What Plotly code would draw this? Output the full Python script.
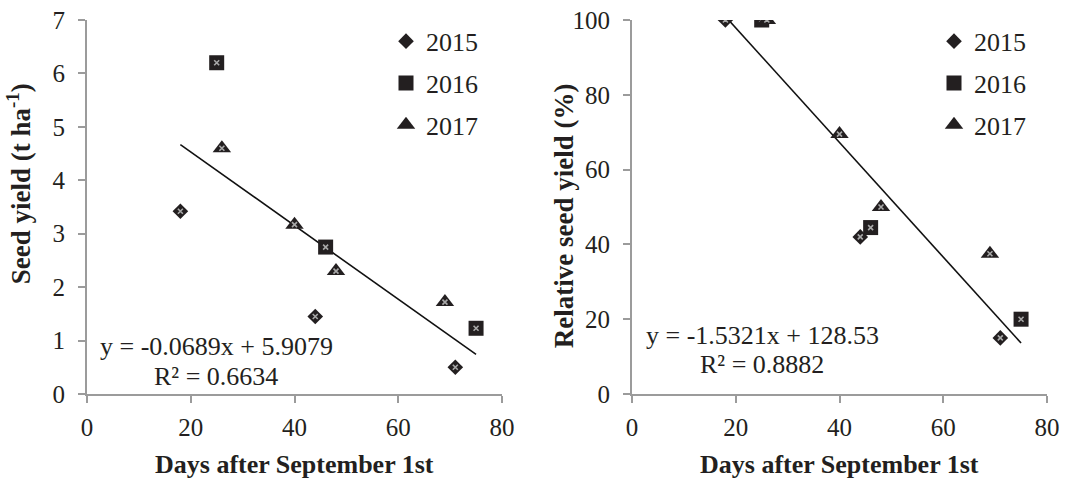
import plotly.graph_objects as go

years = ["2015", "2016", "2017"]
symbols = {"2015": "diamond", "2016": "square", "2017": "triangle-up"}
sizes = {"2015": 12, "2016": 15, "2017": 16}

# Left panel: seed yield (t ha-1)
days = {
    "2015": [18, 44, 71],
    "2016": [25, 46, 75],
    "2017": [26, 40, 48, 69],
}
yield_abs = {
    "2015": [3.42, 1.45, 0.50],
    "2016": [6.20, 2.75, 1.23],
    "2017": [4.60, 3.17, 2.30, 1.72],
}
# Right panel: relative seed yield (%)
yield_rel = {
    "2015": [100, 42, 15],
    "2016": [100, 44.5, 20],
    "2017": [100, 69.5, 50, 37.5],
}

fit_left = (-0.0689, 5.9079)
fit_right = (-1.5321, 128.53)
fit_x = [18, 75]
eq_left = ["y = -0.0689x + 5.9079", "R² = 0.6634"]
eq_right = ["y = -1.5321x + 128.53", "R² = 0.8882"]

FONT = "Liberation Serif, Times New Roman, serif"
INK = "#231f20"
GREY = "#9b9b9b"
W, H = 1069, 480
T, B = 19.5, 394.0  # plot area top / bottom in pixels
PH = B - T

fig = go.Figure()

def add_panel(xa, ya, ydata, fit, legend):
    fig.add_trace(go.Scatter(x=fit_x, y=[fit[0] * v + fit[1] for v in fit_x],
                             mode="lines", line=dict(color="#111111", width=1.6),
                             xaxis=xa, yaxis=ya, showlegend=False, hoverinfo="skip"))
    for yr in years:
        fig.add_trace(go.Scatter(x=days[yr], y=ydata[yr], mode="markers",
                                 marker=dict(symbol=symbols[yr], size=sizes[yr], color=INK,
                                             line=dict(width=0)),
                                 xaxis=xa, yaxis=ya, showlegend=False))
        fig.add_trace(go.Scatter(x=days[yr], y=ydata[yr], mode="markers",
                                 marker=dict(symbol="x-thin", size=5, color="#a8a8a8",
                                             line=dict(width=1.6, color="#a8a8a8")),
                                 xaxis=xa, yaxis=ya, showlegend=False, hoverinfo="skip"))
        fig.add_trace(go.Scatter(x=[None], y=[None], mode="markers", name=yr,
                                 marker=dict(symbol=symbols[yr], size=sizes[yr], color=INK),
                                 xaxis=xa, yaxis=ya, legend=legend, legendgroup=legend + yr))

add_panel("x", "y", yield_abs, fit_left, "legend")
add_panel("x2", "y2", yield_rel, fit_right, "legend2")

axis_common = dict(showline=True, linecolor=GREY, linewidth=2, ticks="outside",
                   tickcolor=GREY, ticklen=7, tickwidth=2, showgrid=False, zeroline=False,
                   automargin=False, tickfont=dict(family=FONT, size=25, color=INK))

fig.update_layout(
    width=W, height=H,
    paper_bgcolor="white", plot_bgcolor="white",
    margin=dict(l=0, r=0, t=T, b=H - B),
    showlegend=True,
    xaxis=dict(domain=[87 / W, 502 / W], range=[0, 80], dtick=20, anchor="y",
               ticklabelstandoff=3, **axis_common),
    yaxis=dict(domain=[0, 1], range=[0, 7], dtick=1, anchor="x",
               ticklabelstandoff=8, **axis_common),
    xaxis2=dict(domain=[632 / W, 1047 / W], range=[0, 80], dtick=20, anchor="y2",
                ticklabelstandoff=3, **axis_common),
    yaxis2=dict(domain=[0, 1], range=[0, 100], dtick=20, anchor="x2",
                ticklabelstandoff=8, **axis_common),
    legend=dict(x=386 / W, y=1.006, xanchor="left", yanchor="top", bgcolor="rgba(0,0,0,0)",
                font=dict(family=FONT, size=26, color=INK), tracegroupgap=5, itemwidth=30),
    legend2=dict(x=934 / W, y=1.006, xanchor="left", yanchor="top", bgcolor="rgba(0,0,0,0)",
                 font=dict(family=FONT, size=26, color=INK), tracegroupgap=5, itemwidth=30),
)

def py(pix):
    return (B - pix) / PH

ann_font = dict(family=FONT, size=26, color=INK)
for i, t in enumerate(eq_left):
    fig.add_annotation(xref="paper", yref="paper", x=216 / W, y=py(346 + 30 * i),
                       text=t, showarrow=False, font=ann_font, xanchor="center", yanchor="middle")
for i, t in enumerate(eq_right):
    fig.add_annotation(xref="paper", yref="paper", x=762 / W, y=py(335 + 29 * i),
                       text=t, showarrow=False, font=ann_font, xanchor="center", yanchor="middle")

# axis titles
tfont = dict(family=FONT, size=26, color=INK)
for cx in (294.5 / W, 839.5 / W):
    fig.add_annotation(xref="paper", yref="paper", x=cx, y=py(465),
                       text="<b>Days after September 1st</b>", showarrow=False, font=tfont,
                       xanchor="center", yanchor="middle")
fig.add_annotation(xref="paper", yref="paper", x=19 / W, y=py(184),
                   text="<b>Seed yield (t ha<sup>-1</sup>)</b>", showarrow=False, textangle=-90,
                   font=dict(family=FONT, size=27, color=INK), xanchor="center", yanchor="middle")
fig.add_annotation(xref="paper", yref="paper", x=564 / W, y=py(216),
                   text="<b>Relative seed yield (%)</b>", showarrow=False, textangle=-90,
                   font=dict(family=FONT, size=27, color=INK), xanchor="center", yanchor="middle")

fig.write_html("out.html", config={"displayModeBar": False},
               post_script="document.body.style.margin='0';document.body.style.overflow='hidden';")
